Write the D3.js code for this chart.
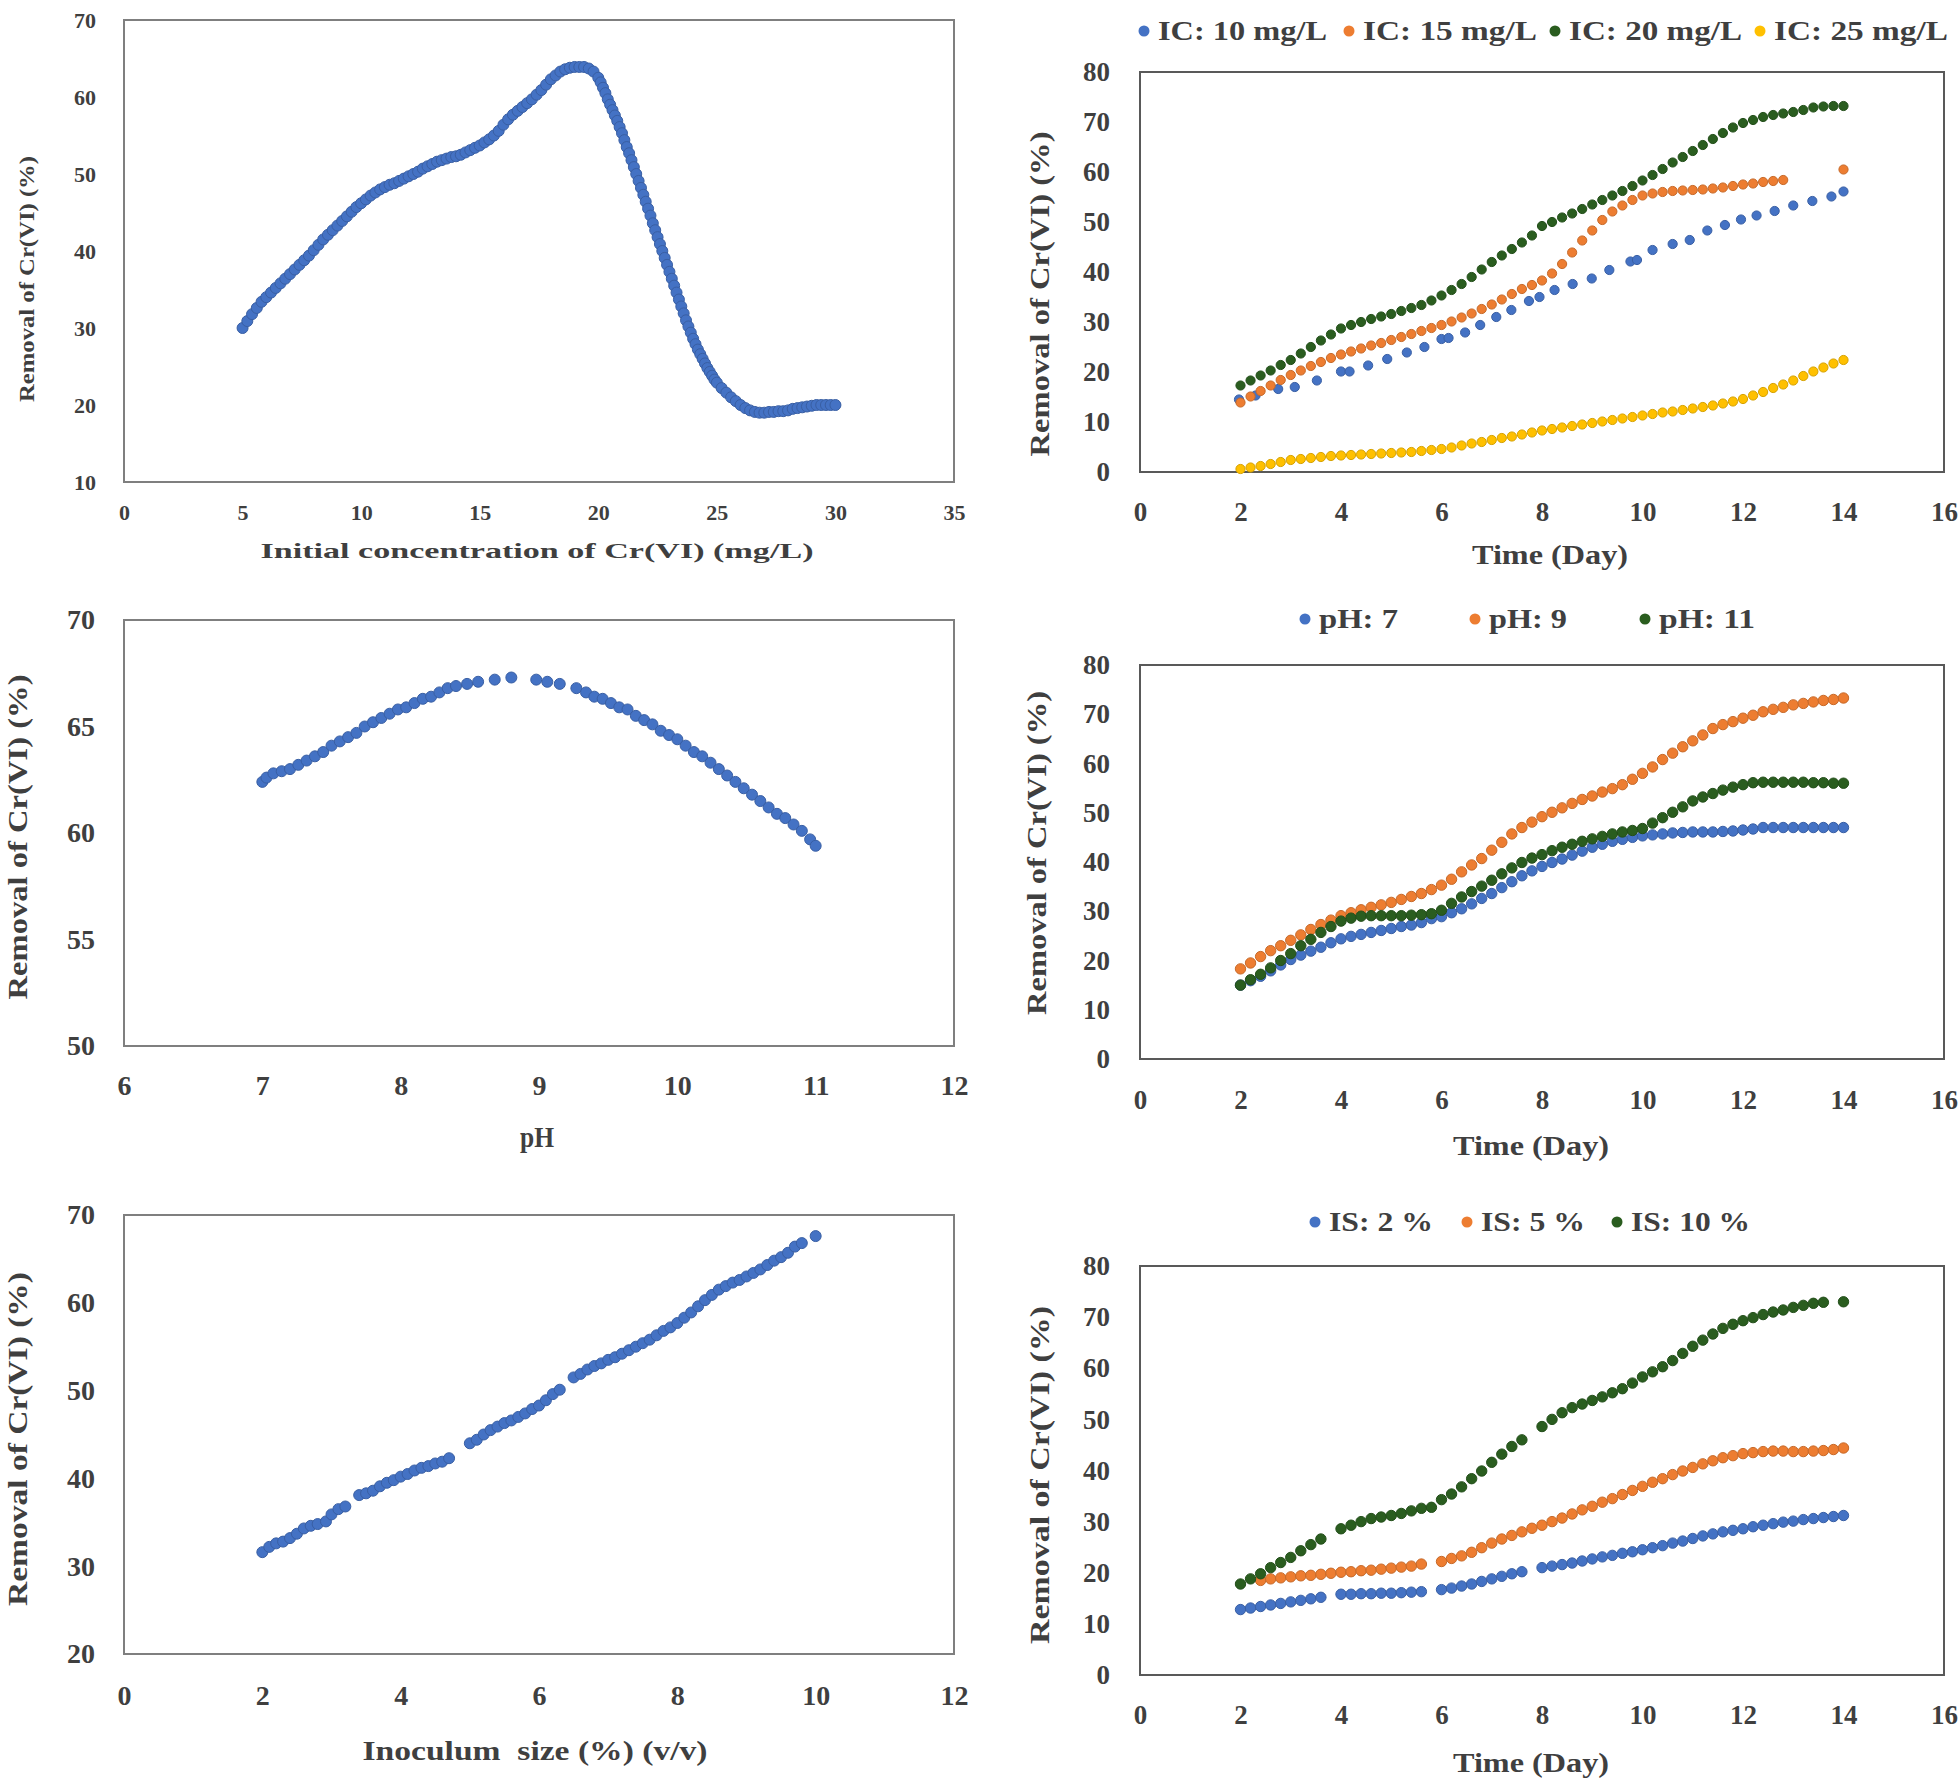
<!DOCTYPE html>
<html>
<head>
<meta charset="utf-8">
<script src="https://cdn.jsdelivr.net/npm/d3@7"></script>
<style>
  body { margin: 0; background: #fff; }
  svg text { font-family: "Liberation Serif", "Times New Roman", serif; font-weight: bold; fill: #3f3f3f; white-space: pre; }
</style>
</head>
<body>
<svg id="fig" width="1960" height="1785"></svg>
<script>
// ---- data ----

// (a) removal vs initial concentration  [mg/L, %]
var concPts = [
  [5.0,30.0],[5.2,30.9],[5.4,31.8],[5.6,32.6],[5.8,33.4],[6.0,34.0],[6.2,34.6],[6.4,35.2],[6.6,35.8],[6.8,36.4],
  [7.0,37.0],[7.2,37.6],[7.4,38.2],[7.6,38.8],[7.8,39.4],[8.0,40.1],[8.2,40.8],[8.4,41.5],[8.6,42.1],[8.8,42.7],
  [9.0,43.3],[9.2,43.9],[9.4,44.5],[9.6,45.1],[9.8,45.7],[10.0,46.2],[10.2,46.7],[10.4,47.2],[10.6,47.6],[10.8,48.0],
  [11.0,48.3],[11.2,48.6],[11.4,48.8],[11.6,49.1],[11.8,49.4],[12.0,49.7],[12.2,50.0],[12.4,50.3],[12.6,50.7],[12.8,51.0],
  [13.0,51.3],[13.2,51.6],[13.4,51.8],[13.6,52.0],[13.8,52.2],[14.0,52.3],[14.2,52.5],[14.4,52.8],[14.6,53.1],[14.8,53.4],
  [15.0,53.7],[15.2,54.1],[15.4,54.5],[15.6,55.0],[15.8,55.6],[16.0,56.4],[16.2,57.1],[16.4,57.7],[16.6,58.2],[16.8,58.7],
  [17.0,59.2],[17.2,59.7],[17.4,60.3],[17.6,60.9],[17.8,61.6],[18.0,62.3],[18.2,62.8],[18.4,63.3],[18.6,63.6],[18.8,63.8],
  [19.0,63.9],[19.2,63.9],[19.4,63.9],[19.6,63.7],[19.8,63.3],[20.0,62.5],[20.1,61.9],[20.2,61.2],[20.3,60.5],[20.4,59.7],
  [20.5,59.0],[20.6,58.3],[20.7,57.6],[20.8,56.9],[20.9,56.1],[21.0,55.3],[21.1,54.4],[21.2,53.5],[21.3,52.7],[21.4,51.8],
  [21.5,50.9],[21.6,50.0],[21.7,49.1],[21.8,48.2],[21.9,47.3],[22.0,46.4],[22.1,45.5],[22.2,44.6],[22.3,43.6],[22.4,42.7],
  [22.5,41.8],[22.6,40.9],[22.7,40.0],[22.8,39.1],[22.9,38.2],[23.0,37.3],[23.1,36.4],[23.2,35.5],[23.3,34.6],[23.4,33.7],
  [23.5,32.8],[23.6,31.9],[23.7,31.0],[23.8,30.2],[23.9,29.4],[24.0,28.6],[24.1,27.9],[24.2,27.2],[24.3,26.6],[24.4,26.0],
  [24.5,25.4],[24.6,24.8],[24.7,24.3],[24.8,23.8],[24.9,23.3],[25.0,22.9],[25.2,22.2],[25.4,21.6],[25.6,21.0],[25.8,20.5],
  [26.0,20.0],[26.2,19.6],[26.4,19.3],[26.6,19.1],[26.8,19.0],[27.0,19.0],[27.2,19.1],[27.4,19.1],[27.6,19.2],[27.8,19.2],
  [28.0,19.3],[28.2,19.5],[28.4,19.6],[28.6,19.7],[28.8,19.8],[29.0,19.9],[29.2,20.0],[29.4,20.0],[29.6,20.0],[29.8,20.0],
  [30.0,20.0]
];

// (c) removal vs pH
var phPts = [
  [7.0,62.4],[7.03,62.6],[7.08,62.8],[7.14,62.9],[7.2,63.0],[7.26,63.2],[7.32,63.4],[7.38,63.6],[7.44,63.8],[7.5,64.1],
  [7.56,64.3],[7.62,64.5],[7.68,64.7],[7.74,65.0],[7.8,65.2],[7.86,65.4],[7.92,65.6],[7.98,65.8],[8.04,65.9],[8.1,66.1],
  [8.16,66.3],[8.22,66.4],[8.28,66.6],[8.34,66.8],[8.4,66.9],[8.48,67.0],[8.56,67.1],[8.68,67.2],[8.8,67.3],[8.98,67.2],
  [9.06,67.1],[9.15,67.0],[9.27,66.8],[9.34,66.6],[9.4,66.4],[9.46,66.3],[9.52,66.1],[9.58,65.9],[9.64,65.8],[9.7,65.5],
  [9.76,65.3],[9.82,65.1],[9.88,64.8],[9.94,64.6],[10.0,64.4],[10.06,64.1],[10.12,63.8],[10.18,63.6],[10.24,63.3],[10.3,63.0],
  [10.36,62.7],[10.42,62.4],[10.48,62.1],[10.54,61.8],[10.6,61.5],[10.66,61.2],[10.72,60.9],[10.78,60.7],[10.84,60.4],[10.9,60.1],
  [10.96,59.7],[11.0,59.4]
];

// (e) removal vs inoculum size
var inocPts = [
  [2.0,31.6],[2.1,32.2],[2.2,32.6],[2.3,32.8],[2.4,33.2],[2.5,33.7],[2.6,34.3],[2.7,34.6],[2.8,34.8],[2.92,35.1],
  [3.0,35.9],[3.1,36.5],[3.2,36.8],[3.4,38.1],[3.5,38.3],[3.6,38.6],[3.7,39.1],[3.8,39.5],[3.9,39.8],[4.0,40.2],
  [4.1,40.5],[4.2,40.9],[4.3,41.2],[4.4,41.4],[4.5,41.7],[4.6,41.9],[4.7,42.3],[5.0,44.0],[5.1,44.4],[5.2,45.0],
  [5.3,45.5],[5.4,45.9],[5.5,46.3],[5.6,46.6],[5.7,47.0],[5.8,47.4],[5.9,47.9],[6.0,48.3],[6.1,48.9],[6.2,49.6],
  [6.3,50.1],[6.5,51.5],[6.6,51.9],[6.7,52.4],[6.8,52.8],[6.9,53.1],[7.0,53.5],[7.1,53.8],[7.2,54.2],[7.3,54.6],
  [7.4,55.0],[7.5,55.4],[7.6,55.8],[7.7,56.3],[7.8,56.8],[7.9,57.2],[8.0,57.7],[8.1,58.3],[8.2,58.9],[8.3,59.6],
  [8.4,60.3],[8.5,60.9],[8.6,61.5],[8.7,61.9],[8.8,62.3],[8.9,62.6],[9.0,63.0],[9.1,63.4],[9.2,63.8],[9.3,64.3],
  [9.4,64.8],[9.5,65.2],[9.6,65.7],[9.7,66.4],[9.8,66.8],[10.0,67.6]
];

// time-course panels: sampling days shared by the dense series
var days = [2.0,2.2,2.4,2.6,2.8,3.0,3.2,3.4,3.6,3.8,4.0,4.2,4.4,4.6,4.8,5.0,5.2,5.4,5.6,5.8,
            6.0,6.2,6.4,6.6,6.8,7.0,7.2,7.4,7.6,7.8,8.0,8.2,8.4,8.6,8.8,9.0,9.2,9.4,9.6,9.8,
            10.0,10.2,10.4,10.6,10.8,11.0,11.2,11.4,11.6,11.8,12.0,12.2,12.4,12.6,12.8,13.0,13.2,13.4,13.6,13.8,14.0];

// (b) initial concentration
var ic10Days = [1.97,2.3,2.75,3.08,3.52,4.0,4.17,4.54,4.92,5.31,5.66,6.0,6.14,6.47,6.77,7.09,7.39,7.74,7.95,8.25,
                8.61,8.99,9.34,9.76,9.89,10.2,10.6,10.94,11.29,11.64,11.96,12.27,12.63,13.0,13.38,13.76,14.0];
var ic10 = [14.5,15.3,16.6,17.0,18.3,20.1,20.1,21.3,22.6,23.9,25.0,26.6,26.8,27.9,29.4,31.0,32.4,34.2,35.0,36.4,
            37.6,38.7,40.4,42.1,42.4,44.4,45.6,46.4,48.3,49.4,50.5,51.3,52.2,53.3,54.2,55.1,56.1];
var ic15 = [13.9,15.1,16.2,17.3,18.4,19.4,20.3,21.2,22.0,22.8,23.5,24.1,24.7,25.3,25.8,26.4,27.0,27.6,28.2,28.8,
            29.4,30.1,30.9,31.7,32.6,33.5,34.5,35.6,36.6,37.4,38.3,39.7,41.6,43.9,46.3,48.3,50.4,52.1,53.3,54.4,
            55.3,55.7,56.0,56.2,56.3,56.4,56.5,56.7,56.9,57.2,57.5,57.7,58.0,58.2,58.4,null,null,null,null,null,60.5];
var ic20 = [17.3,18.3,19.3,20.3,21.4,22.4,23.7,25.0,26.3,27.5,28.7,29.4,30.0,30.6,31.1,31.6,32.2,32.8,33.4,34.3,
            35.3,36.4,37.6,39.0,40.5,42.0,43.3,44.6,45.9,47.3,49.2,50.0,50.9,51.7,52.6,53.5,54.4,55.3,56.2,57.2,
            58.3,59.4,60.6,61.9,63.0,64.2,65.4,66.6,67.8,68.9,69.8,70.4,71.0,71.4,71.7,72.0,72.4,72.9,73.1,73.2,73.2];
var ic25 = [0.6,0.9,1.2,1.6,2.0,2.4,2.6,2.8,3.0,3.2,3.3,3.4,3.5,3.6,3.7,3.8,3.9,4.0,4.2,4.4,
            4.6,4.9,5.3,5.7,6.0,6.4,6.8,7.1,7.5,7.9,8.3,8.6,8.9,9.2,9.5,9.8,10.1,10.4,10.7,11.0,
            11.3,11.6,11.9,12.1,12.4,12.7,13.0,13.3,13.7,14.1,14.6,15.3,16.0,16.8,17.5,18.3,19.2,20.1,20.9,21.7,22.4];

// (d) pH
var ph7 = [15.0,15.9,16.8,17.9,19.1,20.2,21.1,21.9,22.7,23.6,24.4,24.9,25.3,25.7,26.1,26.5,26.9,27.2,27.7,28.5,
           28.9,29.7,30.5,31.5,32.6,33.6,34.8,36.0,37.2,38.2,39.1,39.9,40.6,41.4,42.2,43.0,43.6,44.2,44.6,45.0,
           45.3,45.5,45.7,45.9,46.0,46.1,46.1,46.1,46.2,46.3,46.5,46.7,47.0,47.0,47.0,47.0,47.0,47.0,47.0,47.0,47.0];
var ph9 = [18.3,19.5,20.8,22.0,23.0,24.1,25.2,26.3,27.3,28.2,29.1,29.7,30.3,30.8,31.3,31.8,32.4,33.0,33.6,34.4,
           35.3,36.5,38.0,39.4,40.7,42.4,44.0,45.7,47.0,48.1,49.2,50.1,51.0,51.9,52.7,53.4,54.2,54.9,55.7,56.8,
           58.0,59.3,60.8,62.1,63.4,64.6,65.8,67.1,67.9,68.5,69.2,69.8,70.5,71.0,71.4,71.9,72.2,72.5,72.8,73.0,73.3];
var ph11 = [15.0,16.1,17.2,18.5,20.0,21.4,23.0,24.3,25.7,26.9,28.0,28.6,29.0,29.1,29.1,29.1,29.1,29.2,29.3,29.5,
            30.2,31.6,32.9,34.0,35.1,36.3,37.6,38.8,39.9,40.8,41.5,42.3,43.0,43.6,44.2,44.7,45.2,45.7,46.1,46.4,
            46.8,47.9,49.0,50.1,51.2,52.4,53.2,53.9,54.6,55.2,55.7,56.1,56.2,56.2,56.2,56.2,56.2,56.1,56.1,56.0,56.0];

// (f) inoculum size
var is2 = [12.8,13.1,13.4,13.7,14.0,14.3,14.6,14.9,15.2,null,15.8,15.8,15.9,15.9,16.0,16.0,16.1,16.2,16.3,null,
           16.7,17.0,17.4,17.8,18.3,18.8,19.3,19.8,20.2,null,21.0,21.3,21.6,21.9,22.3,22.7,23.1,23.4,23.8,24.1,
           24.5,24.9,25.3,25.8,26.2,26.7,27.2,27.6,28.0,28.3,28.6,29.0,29.3,29.6,29.9,30.1,30.4,30.6,30.8,31.0,31.2];
var is5 = [null,null,18.5,18.8,19.0,19.2,19.4,19.5,19.7,19.9,20.1,20.2,20.4,20.5,20.7,20.9,21.1,21.3,21.7,null,
           22.2,22.8,23.3,24.0,24.9,25.8,26.6,27.3,28.0,28.7,29.3,30.0,30.7,31.5,32.3,33.0,33.8,34.5,35.3,36.1,
           36.9,37.7,38.4,39.2,39.9,40.6,41.3,41.9,42.5,42.9,43.3,43.5,43.7,43.8,43.8,43.7,43.7,43.8,43.9,44.1,44.4];
var is10 = [17.8,18.8,19.8,21.0,22.0,23.0,24.3,25.5,26.6,null,28.6,29.3,30.0,30.6,30.9,31.2,31.6,32.1,32.6,32.8,
            34.3,35.4,36.8,38.4,39.9,41.6,43.2,44.7,46.0,null,48.6,50.0,51.3,52.3,53.0,53.7,54.4,55.2,56.0,57.1,
            58.3,59.3,60.3,61.5,62.9,64.3,65.5,66.7,67.8,68.6,69.3,69.9,70.5,71.0,71.4,71.9,72.3,72.7,72.9,null,73.0];

// axis ticks
var concTicks = [0, 5, 10, 15, 20, 25, 30, 35];
var concYTicks = [10, 20, 30, 40, 50, 60, 70];
var phTicks = [6, 7, 8, 9, 10, 11, 12];
var phYTicks = [50, 55, 60, 65, 70];
var inocTicks = [0, 2, 4, 6, 8, 10, 12];
var inocYTicks = [20, 30, 40, 50, 60, 70];
var dayTicks = [0, 2, 4, 6, 8, 10, 12, 14, 16];
var pctTicks = [0, 10, 20, 30, 40, 50, 60, 70, 80];

var icNames = ["IC: 10 mg/L", "IC: 15 mg/L", "IC: 20 mg/L", "IC: 25 mg/L"];
var phNames = ["pH: 7", "pH: 9", "pH: 11"];
var isNames = ["IS: 2 %", "IS: 5 %", "IS: 10 %"];

var BLUE = "#4472c4", ORANGE = "#ed7d31", GREEN = "#2a5d1f", YELLOW = "#ffc000";
var yTitle = "Removal of Cr(VI) (%)";

var svg = d3.select("#fig");
svg.append("rect").attr("width", 1960).attr("height", 1785).attr("fill", "#fff");

// join the shared day grid with one value list, dropping the gaps
function onDays(vals) {
  return days.map(function(d, i) { return [d, vals[i]]; })
             .filter(function(p) { return p[1] != null; });
}

function panel(o) {
  var g = svg.append("g");
  var x = d3.scaleLinear().domain(o.xDomain).range([o.box.left, o.box.right]);
  var y = d3.scaleLinear().domain(o.yDomain).range([o.box.bottom, o.box.top]);

  // frame
  g.append("rect")
    .attr("x", o.box.left).attr("y", o.box.top)
    .attr("width", o.box.right - o.box.left)
    .attr("height", o.box.bottom - o.box.top)
    .attr("fill", "none")
    .attr("stroke", o.frame)
    .attr("stroke-width", 2);

  var xa = g.append("g")
    .attr("transform", "translate(0," + o.box.bottom + ")")
    .call(d3.axisBottom(x).tickValues(o.xTicks).tickSize(0).tickFormat(d3.format("d")));
  xa.select(".domain").remove();
  xa.selectAll("text")
    .attr("y", o.xLabOff).attr("dy", "0.35em")
    .attr("font-size", o.tickSize)
    .attr("font-family", null).attr("fill", null);

  var ya = g.append("g")
    .attr("transform", "translate(" + o.box.left + ",0)")
    .call(d3.axisLeft(y).tickValues(o.yTicks).tickSize(0).tickPadding(o.yLabPad).tickFormat(d3.format("d")));
  ya.select(".domain").remove();
  ya.selectAll("text")
    .attr("font-size", o.tickSize)
    .attr("font-family", null).attr("fill", null);

  // the data dots
  o.series.forEach(function(s) {
    g.append("g").selectAll("circle")
      .data(s.pts)
      .enter().append("circle")
      .attr("cx", function(d) { return x(d[0]); })
      .attr("cy", function(d) { return y(d[1]); })
      .attr("r", s.r)
      .attr("fill", s.color)
      .attr("stroke", d3.color(s.color).darker(0.5))
      .attr("stroke-width", 1);
  });

  // axis titles
  g.append("text")
    .attr("x", o.xTitle.x).attr("y", o.xTitle.y).attr("dy", "0.35em")
    .attr("text-anchor", "middle")
    .attr("font-size", o.xTitle.size)
    .attr("textLength", o.xTitle.len).attr("lengthAdjust", "spacingAndGlyphs")
    .text(o.xTitle.text);

  g.append("text")
    .attr("transform", "translate(" + o.yTitle.x + "," + o.yTitle.y + ") rotate(-90)")
    .attr("dy", "0.35em")
    .attr("text-anchor", "middle")
    .attr("font-size", o.yTitle.size)
    .attr("textLength", o.yTitle.len).attr("lengthAdjust", "spacingAndGlyphs")
    .text(yTitle);

  // legend above the plot
  if (o.legend) {
    var lg = g.append("g").selectAll("g")
      .data(o.legend.names)
      .enter().append("g")
      .attr("transform", function(d, i) { return "translate(" + o.legend.xs[i] + "," + o.legend.y + ")"; });
    lg.append("circle")
      .attr("r", 5.5)
      .attr("fill", function(d, i) { return o.series[i].color; });
    lg.append("text")
      .attr("x", 14).attr("dy", "0.35em")
      .attr("font-size", 27)
      .attr("textLength", function(d, i) { return o.legend.lens[i]; })
      .attr("lengthAdjust", "spacingAndGlyphs")
      .text(function(d) { return d; });
  }
}

// (a)
panel({
  box: {left: 124, right: 954, top: 20, bottom: 482},
  xDomain: [0, 35], yDomain: [10, 70],
  xTicks: concTicks, yTicks: concYTicks,
  tickSize: 22, xLabOff: 30, yLabPad: 28, frame: "#7f7f7f",
  series: [{pts: concPts, color: BLUE, r: 5.5}],
  xTitle: {text: "Initial concentration of Cr(VI) (mg/L)", x: 537, y: 550, size: 22, len: 553},
  yTitle: {x: 27, y: 279, size: 21, len: 246}
});

// (b)
panel({
  box: {left: 1140, right: 1944, top: 72, bottom: 472},
  xDomain: [0, 16], yDomain: [0, 80],
  xTicks: dayTicks, yTicks: pctTicks,
  tickSize: 27, xLabOff: 40, yLabPad: 30, frame: "#595959",
  series: [
    {pts: ic10Days.map(function(d, i) { return [d, ic10[i]]; }), color: BLUE, r: 4.6},
    {pts: onDays(ic15), color: ORANGE, r: 4.6},
    {pts: onDays(ic20), color: GREEN, r: 4.6},
    {pts: onDays(ic25), color: YELLOW, r: 4.6}
  ],
  xTitle: {text: "Time (Day)", x: 1550, y: 554, size: 28, len: 156},
  yTitle: {x: 1040, y: 294, size: 27, len: 325},
  legend: {names: icNames, y: 31, xs: [1144, 1349, 1555, 1760], lens: [169, 174, 173, 174]}
});

// (c)
panel({
  box: {left: 124, right: 954, top: 620, bottom: 1046},
  xDomain: [6, 12], yDomain: [50, 70],
  xTicks: phTicks, yTicks: phYTicks,
  tickSize: 28, xLabOff: 39, yLabPad: 29, frame: "#7f7f7f",
  series: [{pts: phPts, color: BLUE, r: 5.5}],
  xTitle: {text: "pH", x: 537, y: 1137, size: 29, len: 34},
  yTitle: {x: 18, y: 837, size: 27, len: 325}
});

// (d)
panel({
  box: {left: 1140, right: 1944, top: 665, bottom: 1059},
  xDomain: [0, 16], yDomain: [0, 80],
  xTicks: dayTicks, yTicks: pctTicks,
  tickSize: 27, xLabOff: 41, yLabPad: 30, frame: "#595959",
  series: [
    {pts: onDays(ph7), color: BLUE, r: 5.2},
    {pts: onDays(ph9), color: ORANGE, r: 5.2},
    {pts: onDays(ph11), color: GREEN, r: 5.2}
  ],
  xTitle: {text: "Time (Day)", x: 1531, y: 1145, size: 28, len: 156},
  yTitle: {x: 1037, y: 853, size: 27, len: 324},
  legend: {names: phNames, y: 619, xs: [1305, 1475, 1645], lens: [79, 78, 96]}
});

// (e)
panel({
  box: {left: 124, right: 954, top: 1215, bottom: 1654},
  xDomain: [0, 12], yDomain: [20, 70],
  xTicks: inocTicks, yTicks: inocYTicks,
  tickSize: 28, xLabOff: 41, yLabPad: 29, frame: "#7f7f7f",
  series: [{pts: inocPts, color: BLUE, r: 5.5}],
  xTitle: {text: "Inoculum\u00a0 size (%) (v/v)", x: 535, y: 1750, size: 28, len: 345},
  yTitle: {x: 18, y: 1439, size: 27, len: 334}
});

// (f)
panel({
  box: {left: 1140, right: 1944, top: 1266, bottom: 1675},
  xDomain: [0, 16], yDomain: [0, 80],
  xTicks: dayTicks, yTicks: pctTicks,
  tickSize: 27, xLabOff: 40, yLabPad: 30, frame: "#595959",
  series: [
    {pts: onDays(is2), color: BLUE, r: 5.2},
    {pts: onDays(is5), color: ORANGE, r: 5.2},
    {pts: onDays(is10), color: GREEN, r: 5.2}
  ],
  xTitle: {text: "Time (Day)", x: 1531, y: 1762, size: 28, len: 156},
  yTitle: {x: 1040, y: 1475, size: 27, len: 338},
  legend: {names: isNames, y: 1222, xs: [1315, 1467, 1617], lens: [104, 104, 119]}
});
</script>
</body>
</html>
